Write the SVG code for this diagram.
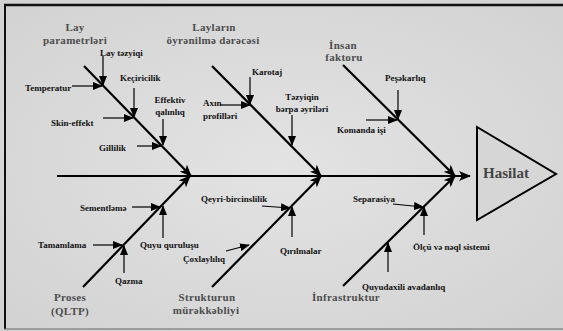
<svg xmlns="http://www.w3.org/2000/svg" width="563" height="331" viewBox="0 0 563 331">
<defs>
<marker id="ah" markerUnits="userSpaceOnUse" markerWidth="10" markerHeight="8" refX="9" refY="4" orient="auto"><path d="M0,0 L10,4 L0,8 z" fill="#000"/></marker>
<marker id="ahb" markerUnits="userSpaceOnUse" markerWidth="12" markerHeight="10" refX="11" refY="5" orient="auto"><path d="M0,0 L12,5 L0,10 L3,5 z" fill="#000"/></marker>
<radialGradient id="bg" cx="50%" cy="50%" r="70%"><stop offset="0" stop-color="#e3e3e3"/><stop offset="1" stop-color="#d2d2d2"/></radialGradient>
<style>
.bone{stroke:#000;stroke-width:2.2;fill:none;marker-end:url(#ahb)}
.sub{stroke:#000;stroke-width:1.2;fill:none;marker-end:url(#ah)}
.cat{font-family:"Liberation Serif",serif;font-weight:bold;font-size:11px;fill:#4d4d4d;letter-spacing:0.3px;text-anchor:middle}
.lbl{font-family:"Liberation Serif",serif;font-weight:bold;font-size:9px;fill:#111}
.mid{text-anchor:middle}
</style>
</defs>
<rect x="0" y="0" width="563" height="331" fill="url(#bg)"/>
<g id="frame" stroke="#111" fill="none">
<line x1="4" y1="5" x2="563" y2="5" stroke-width="2.5"/>
<line x1="5" y1="4" x2="5" y2="329" stroke-width="2"/>
<line x1="4" y1="329" x2="563" y2="329" stroke-width="1.2" stroke="#666"/>
</g>
<g id="connectors">
<line class="bone" x1="57" y1="176" x2="470" y2="176"/>
<line class="bone" x1="84" y1="66" x2="191" y2="176"/>
<line class="bone" x1="212" y1="66" x2="321" y2="176"/>
<line class="bone" x1="343" y1="65" x2="455" y2="176"/>
<line class="bone" x1="83" y1="287" x2="190" y2="176"/>
<line class="bone" x1="212" y1="287" x2="321" y2="176"/>
<line class="bone" x1="343" y1="286" x2="455" y2="176"/>
<line class="sub" x1="103" y1="56" x2="103" y2="85"/>
<line class="sub" x1="72" y1="86" x2="102" y2="86"/>
<line class="sub" x1="134" y1="88" x2="134" y2="117"/>
<line class="sub" x1="103" y1="118" x2="133" y2="118"/>
<line class="sub" x1="163" y1="119" x2="163" y2="145"/>
<line class="sub" x1="137" y1="146" x2="161" y2="146"/>
<line class="sub" x1="250" y1="77" x2="250" y2="104"/>
<line class="sub" x1="220" y1="105" x2="250" y2="105"/>
<line class="sub" x1="292" y1="115" x2="292" y2="145"/>
<line class="sub" x1="398" y1="90" x2="398" y2="119"/>
<line class="sub" x1="366" y1="120" x2="397" y2="120"/>
<line class="sub" x1="132" y1="207" x2="160" y2="207"/>
<line class="sub" x1="163" y1="238" x2="163" y2="206"/>
<line class="sub" x1="93" y1="245" x2="122" y2="245"/>
<line class="sub" x1="124" y1="273" x2="124" y2="246"/>
<line class="sub" x1="262" y1="206" x2="290" y2="208"/>
<line class="sub" x1="292" y1="237" x2="292" y2="207"/>
<line class="sub" x1="226" y1="251" x2="249" y2="245"/>
<line class="sub" x1="393" y1="204" x2="423" y2="207"/>
<line class="sub" x1="424" y1="235" x2="424" y2="207"/>
<line class="sub" x1="388" y1="272" x2="388" y2="243"/>
</g>
<g id="hasilat">
<polygon points="477,127 556,174 477,220" fill="#d6d6d6" stroke="#000" stroke-width="2"/>
<text x="506" y="178" font-family="Liberation Serif, serif" font-weight="bold" font-size="15" fill="#444" text-anchor="middle">Hasilat</text>
</g>
<g id="cat-lay">
<text class="cat" x="75" y="31">Lay</text>
<text class="cat" x="75" y="44">parametrləri</text>
</g>
<g id="cat-oyrenilme">
<text class="cat" x="214" y="31">Layların</text>
<text class="cat" x="213" y="44">öyrənilmə dərəcəsi</text>
</g>
<g id="cat-insan">
<text class="cat" x="343" y="49">İnsan</text>
<text class="cat" x="344" y="61">faktoru</text>
</g>
<g id="cat-proses">
<text class="cat" x="70" y="301">Proses</text>
<text class="cat" x="70" y="315">(QLTP)</text>
</g>
<g id="cat-struktur">
<text class="cat" x="207" y="301">Strukturun</text>
<text class="cat" x="206" y="314">mürəkkəbliyi</text>
</g>
<g id="cat-infra">
<text class="cat" x="346" y="301">İnfrastruktur</text>
</g>
<g id="n-lay-tezyiqi"><text class="lbl" x="100" y="56">Lay təzyiqi</text></g>
<g id="n-temperatur"><text class="lbl" x="25" y="91">Temperatur</text></g>
<g id="n-keciricilik"><text class="lbl" x="120" y="81">Keçiricilik</text></g>
<g id="n-skin"><text class="lbl" x="51" y="126">Skin-effekt</text></g>
<g id="n-effektiv"><text class="lbl mid" x="170" y="103">Effektiv</text><text class="lbl mid" x="170" y="115">qalınlıq</text></g>
<g id="n-gillilik"><text class="lbl" x="99" y="151">Gillilik</text></g>
<g id="n-karotaj"><text class="lbl" x="252" y="75">Karotaj</text></g>
<g id="n-axin"><text class="lbl" x="203" y="106">Axın</text><text class="lbl" x="203" y="119">profilləri</text></g>
<g id="n-tezyiqin"><text class="lbl mid" x="302" y="100">Təzyiqin</text><text class="lbl mid" x="302" y="112">bərpa əyriləri</text></g>
<g id="n-pesekarliq"><text class="lbl" x="385" y="81">Peşəkarlıq</text></g>
<g id="n-komanda"><text class="lbl" x="337" y="133">Komanda işi</text></g>
<g id="n-sementleme"><text class="lbl" x="80" y="211">Sementləmə</text></g>
<g id="n-quyu-qurulusu"><text class="lbl" x="140" y="248">Quyu quruluşu</text></g>
<g id="n-tamamlama"><text class="lbl" x="38" y="248">Tamamlama</text></g>
<g id="n-qazma"><text class="lbl" x="115" y="284">Qazma</text></g>
<g id="n-qeyri"><text class="lbl" x="201" y="202">Qeyri-bircinslilik</text></g>
<g id="n-qirilmalar"><text class="lbl" x="280" y="254">Qırılmalar</text></g>
<g id="n-coxlayliliq"><text class="lbl" x="183" y="262">Çoxlaylılıq</text></g>
<g id="n-separasiya"><text class="lbl" x="353" y="202">Separasiya</text></g>
<g id="n-olcu"><text class="lbl" x="413" y="250">Ölçü və nəql sistemi</text></g>
<g id="n-quyudaxili"><text class="lbl" x="362" y="290">Quyudaxili avadanlıq</text></g>
</svg>
